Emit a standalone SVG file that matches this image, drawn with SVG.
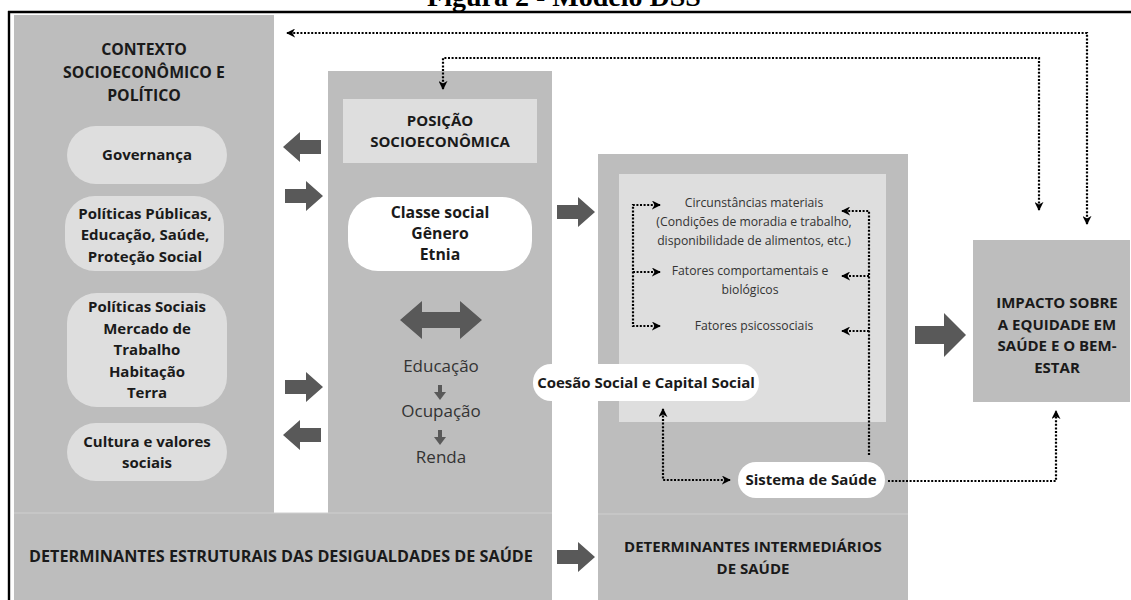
<svg xmlns="http://www.w3.org/2000/svg" width="1131" height="600" viewBox="0 0 1131 600">
<style>
.panel{fill:#bdbdbd}
.light{fill:#dedede}
.white{fill:#ffffff}
.blk{fill:#595959}
.b{font-family:"Open Sans","DejaVu Sans",sans-serif;font-weight:bold;font-size:15px;fill:#1a1a1a;text-anchor:middle}
.r{font-family:"Open Sans","DejaVu Sans",sans-serif;font-size:17px;fill:#333;text-anchor:middle}
.s{font-family:"Open Sans","DejaVu Sans",sans-serif;font-size:12.2px;fill:#333;text-anchor:middle}
.dot{fill:none;stroke:#000;stroke-width:2.2;stroke-dasharray:2 1.6}
.sep{stroke:#cfcfcf;stroke-width:1}
</style>
<defs>
<marker id="ah" viewBox="0 0 10 10" refX="9" refY="5" markerWidth="9" markerHeight="9" markerUnits="userSpaceOnUse" orient="auto-start-reverse">
<path d="M0,0 L10,5 L0,10 L3,5 Z" fill="#000"/>
</marker>
<path id="barrow" d="M0,-7 L21,-7 L21,-15 L38,0 L21,15 L21,7 L0,7 Z"/>
</defs>
<rect width="1131" height="600" fill="#fff"/>
<text x="564" y="6" font-family="Liberation Serif,serif" font-weight="bold" font-size="28" text-anchor="middle" fill="#000">Figura 2 - Modelo DSS</text>
<line x1="8" y1="12" x2="1131" y2="12" stroke="#000" stroke-width="2.4"/>
<line x1="9" y1="11" x2="9" y2="600" stroke="#000" stroke-width="2.4"/>

<g id="contexto">
<rect class="panel" x="14" y="15" width="260" height="498"/>
<text class="b" style="font-size:15.8px"><tspan x="144" y="55">CONTEXTO</tspan><tspan x="144" y="78">SOCIOECONÔMICO E</tspan><tspan x="144" y="101">POLÍTICO</tspan></text>
</g>
<g id="governanca">
<rect class="light" x="67" y="126" width="160" height="58" rx="29"/>
<text class="b" x="147" y="160">Governança</text>
</g>
<g id="politicas-publicas">
<rect class="light" x="65" y="196" width="159" height="75" rx="30"/>
<text class="b"><tspan x="145" y="219">Políticas Públicas,</tspan><tspan x="145" y="240">Educação, Saúde,</tspan><tspan x="145" y="262">Proteção Social</tspan></text>
</g>
<g id="politicas-sociais">
<rect class="light" x="67" y="293" width="160" height="114" rx="30"/>
<text class="b"><tspan x="147" y="312">Políticas Sociais</tspan><tspan x="147" y="334">Mercado de</tspan><tspan x="147" y="355">Trabalho</tspan><tspan x="147" y="377">Habitação</tspan><tspan x="147" y="398">Terra</tspan></text>
</g>
<g id="cultura">
<rect class="light" x="67" y="423" width="160" height="58" rx="29"/>
<text class="b"><tspan x="147" y="447">Cultura e valores</tspan><tspan x="147" y="468">sociais</tspan></text>
</g>

<g id="posicao">
<rect class="panel" x="328" y="71" width="224" height="442"/>
<rect class="light" x="343" y="99" width="194" height="64"/>
<text class="b"><tspan x="440" y="126">POSIÇÃO</tspan><tspan x="440" y="147">SOCIOECONÔMICA</tspan></text>
</g>
<g id="classe">
<rect class="white" x="348" y="197" width="184" height="74" rx="30"/>
<text class="b" style="font-size:15.8px"><tspan x="440" y="218">Classe social</tspan><tspan x="440" y="239">Gênero</tspan><tspan x="440" y="260">Etnia</tspan></text>
</g>
<g id="educacao">
<path class="blk" d="M400,320 L422,301 L422,312 L460,312 L460,301 L482,320 L460,339 L460,328 L422,328 L422,339 Z"/>
<text class="r" x="441" y="372">Educação</text>
<path class="blk" d="M438,385 L442,385 L442,392 L446,392 L440,400 L434,392 L438,392 Z"/>
<text class="r" x="441" y="417">Ocupação</text>
<path class="blk" d="M438,430 L442,430 L442,437 L446,437 L440,445 L434,437 L438,437 Z"/>
<text class="r" x="441" y="463">Renda</text>
</g>

<g id="estruturais">
<rect class="panel" x="14" y="513" width="538" height="87"/>
<line class="sep" x1="14" y1="513" x2="552" y2="513"/>
<text class="b" x="281" y="562" style="font-size:16.2px">DETERMINANTES ESTRUTURAIS DAS DESIGUALDADES DE SAÚDE</text>
</g>

<g id="intermediarios">
<rect class="panel" x="598" y="154" width="310" height="446"/>
<rect class="light" x="619" y="174" width="267" height="248"/>
<line class="sep" x1="598" y1="514" x2="908" y2="514"/>
<text class="b"><tspan x="753" y="552">DETERMINANTES INTERMEDIÁRIOS</tspan><tspan x="753" y="574">DE SAÚDE</tspan></text>
</g>
<g id="circunstancias">
<text class="s"><tspan x="754" y="207">Circunstâncias materiais</tspan><tspan x="754" y="226">(Condições de moradia e trabalho,</tspan><tspan x="754" y="245">disponibilidade de alimentos, etc.)</tspan></text>
</g>
<g id="comportamentais">
<text class="s"><tspan x="750" y="275">Fatores comportamentais e</tspan><tspan x="750" y="294">biológicos</tspan></text>
</g>
<g id="psicossociais">
<text class="s" x="754" y="330">Fatores psicossociais</text>
</g>
<g id="coesao">
<rect class="white" x="533" y="364" width="226" height="37" rx="18"/>
<text class="b" x="646" y="388">Coesão Social e Capital Social</text>
</g>
<g id="sistema">
<rect class="white" x="738" y="462" width="147" height="36" rx="18"/>
<text class="b" x="811" y="485">Sistema de Saúde</text>
</g>

<g id="impacto">
<rect class="panel" x="973" y="240" width="157" height="162"/>
<text class="b"><tspan x="1057" y="308">IMPACTO SOBRE</tspan><tspan x="1057" y="330">A EQUIDADE EM</tspan><tspan x="1057" y="351">SAÚDE E O BEM-</tspan><tspan x="1057" y="373">ESTAR</tspan></text>
</g>

<g id="connectors">
<use href="#barrow" class="blk" transform="translate(321,147) scale(-1,1)"/>
<use href="#barrow" class="blk" transform="translate(285,196)"/>
<use href="#barrow" class="blk" transform="translate(285,387)"/>
<use href="#barrow" class="blk" transform="translate(321,435) scale(-1,1)"/>
<use href="#barrow" class="blk" transform="translate(557,212)"/>
<use href="#barrow" class="blk" transform="translate(557,557)"/>
<path class="blk" d="M915,326 L944,326 L944,313 L966,335 L944,357 L944,344 L915,344 Z"/>
<path class="dot" d="M1087,224 L1087,33 L287,33" marker-start="url(#ah)" marker-end="url(#ah)"/>
<path class="dot" d="M443,89 L443,58 L1039,58 L1039,210" marker-start="url(#ah)" marker-end="url(#ah)"/>
<path class="dot" d="M660,205 L633,205 L633,326 L660,326" marker-start="url(#ah)" marker-end="url(#ah)"/>
<path class="dot" d="M633,272 L660,272" marker-end="url(#ah)"/>
<path class="dot" d="M869,455 L869,211 L842,211" marker-end="url(#ah)"/>
<path class="dot" d="M869,276 L842,276" marker-end="url(#ah)"/>
<path class="dot" d="M869,331 L842,331" marker-end="url(#ah)"/>
<path class="dot" d="M730,480 L663,480 L663,409" marker-start="url(#ah)" marker-end="url(#ah)"/>
<path class="dot" d="M888,481 L1056,481 L1056,411" marker-end="url(#ah)"/>
</g>
</svg>
